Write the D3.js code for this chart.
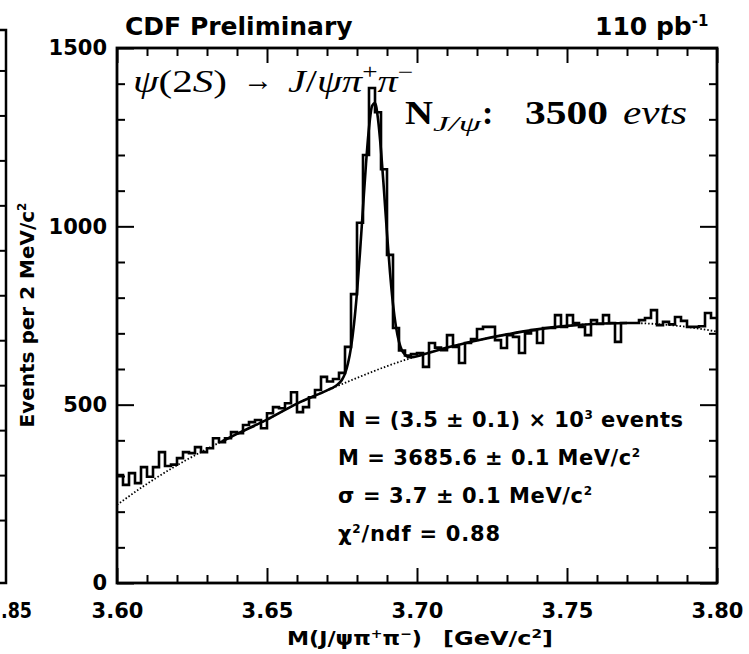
<!DOCTYPE html>
<html><head><meta charset="utf-8">
<script src="https://cdn.jsdelivr.net/npm/d3@7"></script>
<style>
body{margin:0;background:#fff;}
svg{display:block;background:#fff;}
</style></head>
<body><svg id="c" width="749" height="654"></svg>
<script>
// ---------------- data ----------------
const binLow = 3.60;          // GeV/c^2
const binWidth = 0.002;       // 2 MeV bins
const counts = [
 303,275,308,280,325,298,325,367,328,332,
 350,367,364,381,367,378,406,395,406,423,
 420,443,451,457,434,476,493,490,504,535,
 479,493,521,541,578,565,572,589,662,810,
 1010,1200,1388,1320,1160,920,715,652,638,642,
 645,606,673,660,653,695,662,617,673,684,
 712,718,718,681,659,695,690,645,700,709,
 673,715,715,751,718,751,729,718,695,737,
 726,751,729,676,729,729,729,737,743,765,
 723,732,725,746,735,718,718,720,757,743
];
const bgMass = [3.60,3.61,3.62,3.63,3.64,3.65,3.66,3.67,3.68,3.69,3.70,
                3.71,3.72,3.73,3.74,3.75,3.76,3.77,3.78,3.79,3.80];
const bgVals = [219,278,330,376,418,458,503,540,575,608,636,
                660,680,697,711,721,727,729,726,718,705];
const fitMass = [3.635,3.640,3.650,3.660,3.670,3.671,3.672,3.673,3.674,3.675,3.676,3.677,3.678,3.679,
                 3.680,3.681,3.682,3.683,3.684,3.685,3.686,3.687,3.688,3.689,3.690,3.691,3.692,
                 3.693,3.694,3.695,3.696,3.697,3.698,3.699,3.700,3.710,3.720,3.730,3.740,3.750,3.760,3.770];
const fitVals = [397,418,458,503,540,544,548,553,560,570,587,616,660,726,
                 815,927,1052,1175,1276,1337,1346,1301,1213,1100,980,871,782,
                 718,676,652,640,634,633,634,636,660,680,697,711,721,727,729];
const xMajor = [3.60,3.65,3.70,3.75,3.80];
const xTickLabels = ["3.60","3.65","3.70","3.75","3.80"];
const xMinor = [3.61,3.62,3.63,3.64,3.66,3.67,3.68,3.69,3.71,3.72,3.73,3.74,3.76,3.77,3.78,3.79];
const yMajor = [0,500,1000,1500];
const yTickLabels = ["0","500","1000","1500"];
const yMinor = [100,200,300,400,600,700,800,900,1100,1200,1300,1400];
const fragTicks = [140,240,340,440,540,640,740,840,940,1040,1140];
const fitLines = ["N = (3.5 ± 0.1) × 10", "M = 3685.6 ± 0.1 MeV/c", "σ = 3.7 ± 0.1 MeV/c", "χ"];

// ---------------- drawing ----------------
const svg = d3.select("#c");
const SANS = "'DejaVu Sans', 'Liberation Sans', sans-serif";
const SERIF = "'Liberation Serif', 'Times New Roman', serif";
const x = d3.scaleLinear().domain([3.60,3.80]).range([117,717]);
const y = d3.scaleLinear().domain([0,1500]).range([583,48]);

function styleAxis(g){
  g.select(".domain").remove();
  g.selectAll("line").attr("stroke","#000").attr("stroke-width",2);
  g.selectAll("text").attr("font-family",SANS).attr("font-weight","bold")
    .attr("font-size",21).attr("fill","#000");
}

// fragment of neighbouring panel at the far left
const fragY = d3.scaleLinear().domain([0,1230]).range([583,30]);
svg.append("g").attr("transform","translate(6,0)")
  .call(d3.axisLeft(fragY).tickValues(fragTicks).tickSize(6).tickFormat(""))
  .call(styleAxis);
svg.append("path").attr("d",`M0,${fragY(1230)}H6V${fragY(0)}H0`)
  .attr("fill","none").attr("stroke","#000").attr("stroke-width",2.5);
svg.append("text").attr("x",1).attr("y",618)
  .attr("font-family",SANS).attr("font-weight","bold").attr("font-size",21)
  .attr("textLength",31).attr("lengthAdjust","spacingAndGlyphs").text(".85");

// axes
svg.append("g").attr("transform",`translate(0,${y(0)})`)
  .call(d3.axisBottom(x).tickValues(xMajor).tickFormat((d,i)=>xTickLabels[i]).tickSize(-15).tickPadding(20))
  .call(styleAxis);
svg.append("g").attr("transform",`translate(0,${y(0)})`)
  .call(d3.axisBottom(x).tickValues(xMinor).tickFormat("").tickSize(-8)).call(styleAxis);
svg.append("g").attr("transform",`translate(0,${y(1500)})`)
  .call(d3.axisTop(x).tickValues(xMajor).tickFormat("").tickSize(-15)).call(styleAxis);
svg.append("g").attr("transform",`translate(0,${y(1500)})`)
  .call(d3.axisTop(x).tickValues(xMinor).tickFormat("").tickSize(-8)).call(styleAxis);
svg.append("g").attr("transform",`translate(${x(3.60)},0)`)
  .call(d3.axisLeft(y).tickValues(yMajor).tickFormat((d,i)=>yTickLabels[i]).tickSize(-17).tickPadding(10))
  .call(styleAxis);
svg.append("g").attr("transform",`translate(${x(3.60)},0)`)
  .call(d3.axisLeft(y).tickValues(yMinor).tickFormat("").tickSize(-8)).call(styleAxis);
svg.append("g").attr("transform",`translate(${x(3.80)},0)`)
  .call(d3.axisRight(y).tickValues(yMajor).tickFormat("").tickSize(-17)).call(styleAxis);
svg.append("g").attr("transform",`translate(${x(3.80)},0)`)
  .call(d3.axisRight(y).tickValues(yMinor).tickFormat("").tickSize(-8)).call(styleAxis);

svg.append("rect").attr("x",x(3.60)).attr("y",y(1500))
  .attr("width",x(3.80)-x(3.60)).attr("height",y(0)-y(1500))
  .attr("fill","none").attr("stroke","#000").attr("stroke-width",2.8);

// background (dotted) and fit (solid)
const bgLine = d3.line().x(d=>x(d[0])).y(d=>y(d[1])).curve(d3.curveMonotoneX);
svg.append("path").datum(bgMass.map((m,i)=>[m,bgVals[i]])).attr("d",bgLine)
  .attr("fill","none").attr("stroke","#000").attr("stroke-width",1.8).attr("stroke-dasharray","1.5,2");
svg.append("path").datum(fitMass.map((m,i)=>[m,fitVals[i]])).attr("d",bgLine)
  .attr("fill","none").attr("stroke","#000").attr("stroke-width",2.6);

// histogram
const histPts = counts.map((c,i)=>[binLow+i*binWidth, c]);
histPts.push([binLow+counts.length*binWidth, counts[counts.length-1]]);
svg.append("path").datum(histPts)
  .attr("d", d3.line().x(d=>x(d[0])).y(d=>y(d[1])).curve(d3.curveStepAfter))
  .attr("fill","none").attr("stroke","#000").attr("stroke-width",2.6);

// titles
svg.append("text").attr("x",125).attr("y",35).attr("font-family",SANS).attr("font-weight","bold")
  .attr("font-size",25).text("CDF Preliminary");
const lum = svg.append("text").attr("x",595).attr("y",35).attr("font-family",SANS).attr("font-weight","bold").attr("font-size",25);
lum.append("tspan").text("110 pb");
lum.append("tspan").attr("dy",-9).attr("font-size",15).text("-1");

// axis titles
const yl = svg.append("text").attr("transform","translate(34,315) rotate(-90)").attr("text-anchor","middle")
  .attr("font-family",SANS).attr("font-weight","bold").attr("font-size",20);
yl.append("tspan").text("Events per 2 MeV/c");
yl.append("tspan").attr("dy",-8).attr("font-size",12).text("2");

const xl = svg.append("text").attr("x",287).attr("y",645).attr("font-family",SANS).attr("font-weight","bold").attr("font-size",19)
  .attr("textLength",135).attr("lengthAdjust","spacingAndGlyphs");
xl.append("tspan").text("M(J/ψπ");
xl.append("tspan").attr("dy",-7).attr("font-size",12).text("+");
xl.append("tspan").attr("dy",7).text("π");
xl.append("tspan").attr("dy",-7).attr("font-size",12).text("−");
xl.append("tspan").attr("dy",7).text(")");
const xl2 = svg.append("text").attr("x",443).attr("y",645).attr("font-family",SANS).attr("font-weight","bold").attr("font-size",19)
  .attr("textLength",110).attr("lengthAdjust","spacingAndGlyphs");
xl2.append("tspan").text("[GeV/c");
xl2.append("tspan").attr("dy",-7).attr("font-size",12).text("2");
xl2.append("tspan").attr("dy",7).text("]");

// decay formula
const f1 = svg.append("text").attr("x",133).attr("y",92).attr("font-family",SERIF).attr("font-size",31)
  .attr("textLength",94).attr("lengthAdjust","spacingAndGlyphs");
f1.append("tspan").attr("font-style","italic").text("ψ");
f1.append("tspan").text("(2");
f1.append("tspan").attr("font-style","italic").text("S");
f1.append("tspan").text(")");
svg.append("text").attr("x",243).attr("y",90).attr("font-family",SERIF).attr("font-size",30)
  .attr("textLength",30).attr("lengthAdjust","spacingAndGlyphs").text("→");
const f2 = svg.append("text").attr("x",288).attr("y",92).attr("font-family",SERIF).attr("font-size",31)
  .attr("textLength",125).attr("lengthAdjust","spacingAndGlyphs");
f2.append("tspan").attr("font-style","italic").text("J");
f2.append("tspan").text("/");
f2.append("tspan").attr("font-style","italic").text("ψπ");
f2.append("tspan").attr("dy",-13).attr("font-size",21).text("+");
f2.append("tspan").attr("dy",13).attr("font-style","italic").text("π");
f2.append("tspan").attr("dy",-13).attr("font-size",21).text("−");

// N_J/psi label
svg.append("text").attr("x",405).attr("y",124).attr("font-family",SERIF).attr("font-weight","bold")
  .attr("font-size",34).attr("textLength",28).attr("lengthAdjust","spacingAndGlyphs").text("N");
svg.append("text").attr("x",433).attr("y",131).attr("font-family",SERIF).attr("font-style","italic")
  .attr("font-size",22).attr("textLength",48).attr("lengthAdjust","spacingAndGlyphs").text("J/ψ");
svg.append("text").attr("x",482).attr("y",124).attr("font-family",SERIF).attr("font-weight","bold")
  .attr("font-size",34).text(":");
svg.append("text").attr("x",525).attr("y",124).attr("font-family",SERIF).attr("font-weight","bold")
  .attr("font-size",34).attr("textLength",83).attr("lengthAdjust","spacingAndGlyphs").text("3500");
svg.append("text").attr("x",623).attr("y",124).attr("font-family",SERIF).attr("font-style","italic")
  .attr("font-size",34).attr("textLength",64).attr("lengthAdjust","spacingAndGlyphs").text("evts");

// fit results
const fr = svg.append("g").attr("font-family",SANS).attr("font-weight","bold").attr("font-size",21);
const t1 = fr.append("text").attr("x",338).attr("y",427).attr("textLength",345).attr("lengthAdjust","spacing");
t1.append("tspan").text(fitLines[0]);
t1.append("tspan").attr("dy",-8).attr("font-size",12).text("3");
t1.append("tspan").attr("dy",8).text(" events");
const t2 = fr.append("text").attr("x",338).attr("y",465).attr("textLength",302).attr("lengthAdjust","spacing");
t2.append("tspan").text(fitLines[1]);
t2.append("tspan").attr("dy",-8).attr("font-size",12).text("2");
const t3 = fr.append("text").attr("x",338).attr("y",503).attr("textLength",254).attr("lengthAdjust","spacing");
t3.append("tspan").text(fitLines[2]);
t3.append("tspan").attr("dy",-8).attr("font-size",12).text("2");
const t4 = fr.append("text").attr("x",338).attr("y",541).attr("textLength",162).attr("lengthAdjust","spacing");
t4.append("tspan").text(fitLines[3]);
t4.append("tspan").attr("dy",-8).attr("font-size",12).text("2");
t4.append("tspan").attr("dy",8).text("/ndf = 0.88");
</script>
</body></html>
